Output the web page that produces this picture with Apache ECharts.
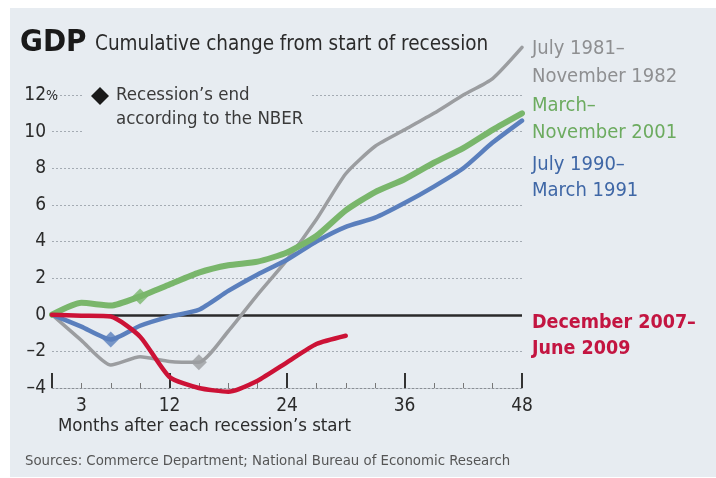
<!DOCTYPE html>
<html><head><meta charset="utf-8">
<script src="https://cdn.jsdelivr.net/npm/echarts@6/dist/echarts.min.js"></script>
<style>html,body{margin:0;padding:0;background:#fff}#c{width:716px;height:478px}</style>
</head><body><div id="c"></div>
<script>
// ---- data ----
const months = [0,3,6,9,12,15,18,21,24,27,30,33,36,39,42,45,48];
const gray1981 = [0,-1.4,-2.75,-2.3,-2.55,-2.6,-0.9,1.1,3.0,5.2,7.7,9.2,10.1,11.0,12.0,12.9,14.6];
const blue1990 = [0,-0.65,-1.35,-0.6,-0.1,0.27,1.3,2.2,3.0,4.0,4.8,5.3,6.1,7.0,8.0,9.4,10.6];
const green2001 = [0,0.65,0.5,1.0,1.65,2.3,2.7,2.9,3.4,4.3,5.7,6.7,7.4,8.3,9.1,10.1,11.0];
const red2007 = [0,-0.05,-0.1,-1.2,-3.4,-4.0,-4.2,-3.6,-2.6,-1.6,-1.15];
const endMonth = [15,6,9,18];          // gray, blue, green, red
const endValue = [-2.6,-1.35,1.0,-4.2];
const yTicks = [-4,-2,0,2,4,6,8,10,12];
const xTickLabels = [3,12,24,36,48];

const FONT = "'Liberation Sans Narrow','DejaVu Sans Condensed','Roboto Condensed','Open Sans',sans-serif";
const C = {gray:'#9b9da0', blue:'#5a7fbd', green:'#79b66b', red:'#cc1236'};
const BG = '#e7ecf1';

const pairs = (vals) => vals.map((v,i)=>[months[i], v]);
const lineSeries = (name, vals, color, width) => ({
  name, type:'line', data: pairs(vals), clip:false, symbol:'none', smooth:0.2,
  lineStyle:{color, width, cap:'round', join:'round'}, z:3, silent:true
});
const endColors = [C.gray, C.blue, C.green, C.red];

const chart = echarts.init(document.getElementById('c'));
chart.setOption({
  backgroundColor:'#fff',
  animation:false,
  grid:{left:52, right:194, top:95, bottom:90},
  xAxis:[{
    type:'value', min:0, max:48, interval:3,
    axisLine:{show:true, onZero:false, lineStyle:{color:'#8a8f96', type:[2,2], width:1}},
    axisTick:{show:false},
    splitLine:{show:false},
    axisLabel:{margin:9, fontFamily:FONT, fontSize:19, color:'#2b2b2b',
      formatter:(v)=> xTickLabels.includes(v) ? String(v) : ''}
  },{
    type:'value', min:0, max:48, interval:12, position:'bottom',
    axisLine:{show:false, onZero:false},
    axisTick:{show:true, inside:true, length:15, lineStyle:{color:'#333', width:2}},
    minorTick:{show:true, splitNumber:4, length:5, lineStyle:{color:'#777', width:1}},
    axisLabel:{show:false}, splitLine:{show:false}
  }],
  yAxis:{
    type:'value', min:-4, max:12, interval:2,
    axisLine:{show:false}, axisTick:{show:false},
    splitLine:{show:true, lineStyle:{color:'#a4abb3', type:[2,2], width:1}},
    axisLabel:{margin:6, fontFamily:FONT, fontSize:19, color:'#2b2b2b',
      formatter:(v)=> yTicks.includes(v) ? String(v).replace('-','\u2013') : ''}
  },
  series:[
    lineSeries('July 1981–November 1982', gray1981, C.gray, 3.5),
    lineSeries('July 1990–March 1991', blue1990, C.blue, 4.5),
    lineSeries('March–November 2001', green2001, C.green, 6),
    Object.assign(lineSeries('December 2007–June 2009', red2007, C.red, 4.5), {
      markLine:{silent:true, symbol:'none', label:{show:false},
        lineStyle:{color:'#2a2a2a', type:'solid', width:2.5},
        data:[{yAxis:0}], z:2}
    }),
    {type:'scatter', symbol:'diamond', symbolSize:16, z:5, silent:true,
      data: endMonth.map((m,i)=>({value:[m,endValue[i]], itemStyle:{color:endColors[i]}}))}
  ],
  graphic:[
    {type:'rect', z:-10, shape:{x:10,y:8,width:706,height:469}, style:{fill:BG}},
    {type:'rect', z:1, shape:{x:82,y:80,width:230,height:60}, style:{fill:BG}},
    {type:'text', z:10, left:20, top:27, style:{text:'GDP', font:"bold 31px "+FONT, fill:'#1a1a1a'}},
    {type:'text', z:10, left:95, top:34, style:{text:'Cumulative change from start of recession', font:"20.5px "+FONT, fill:'#2b2b2b'}},
    {type:'text', z:10, left:46, top:89, style:{text:'%', font:"14px "+FONT, fill:'#2b2b2b'}},
    {type:'polygon', z:10, shape:{points:[[100,87],[109,96],[100,105],[91,96]]}, style:{fill:'#1a1a1a'}},
    {type:'text', z:10, left:116, top:86, style:{text:"Recession\u2019s end", font:"18.5px "+FONT, fill:'#3a3a3a'}},
    {type:'text', z:10, left:116, top:110, style:{text:'according to the NBER', font:"18.5px "+FONT, fill:'#3a3a3a'}},
    {type:'text', z:10, left:532, top:35, style:{text:'July 1981\u2013\nNovember 1982', font:"20px "+FONT, lineHeight:28, fill:'#8e8f91'}},
    {type:'text', z:10, left:532, top:92, style:{text:'March\u2013\nNovember 2001', font:"20px "+FONT, lineHeight:27, fill:'#6cab5f'}},
    {type:'text', z:10, left:532, top:152, style:{text:'July 1990\u2013\nMarch 1991', font:"20px "+FONT, lineHeight:26, fill:'#3f67a6'}},
    {type:'text', z:10, left:532, top:310, style:{text:'December 2007\u2013\nJune 2009', font:"bold 19.5px "+FONT, lineHeight:26, fill:'#c31541'}},
    {type:'text', z:10, left:58, top:417, style:{text:"Months after each recession\u2019s start", font:"18.5px "+FONT, fill:'#2b2b2b'}},
    {type:'text', z:10, left:25, top:454, style:{text:'Sources: Commerce Department; National Bureau of Economic Research', font:"14.8px "+FONT, fill:'#555'}}
  ]
});
</script></body></html>
